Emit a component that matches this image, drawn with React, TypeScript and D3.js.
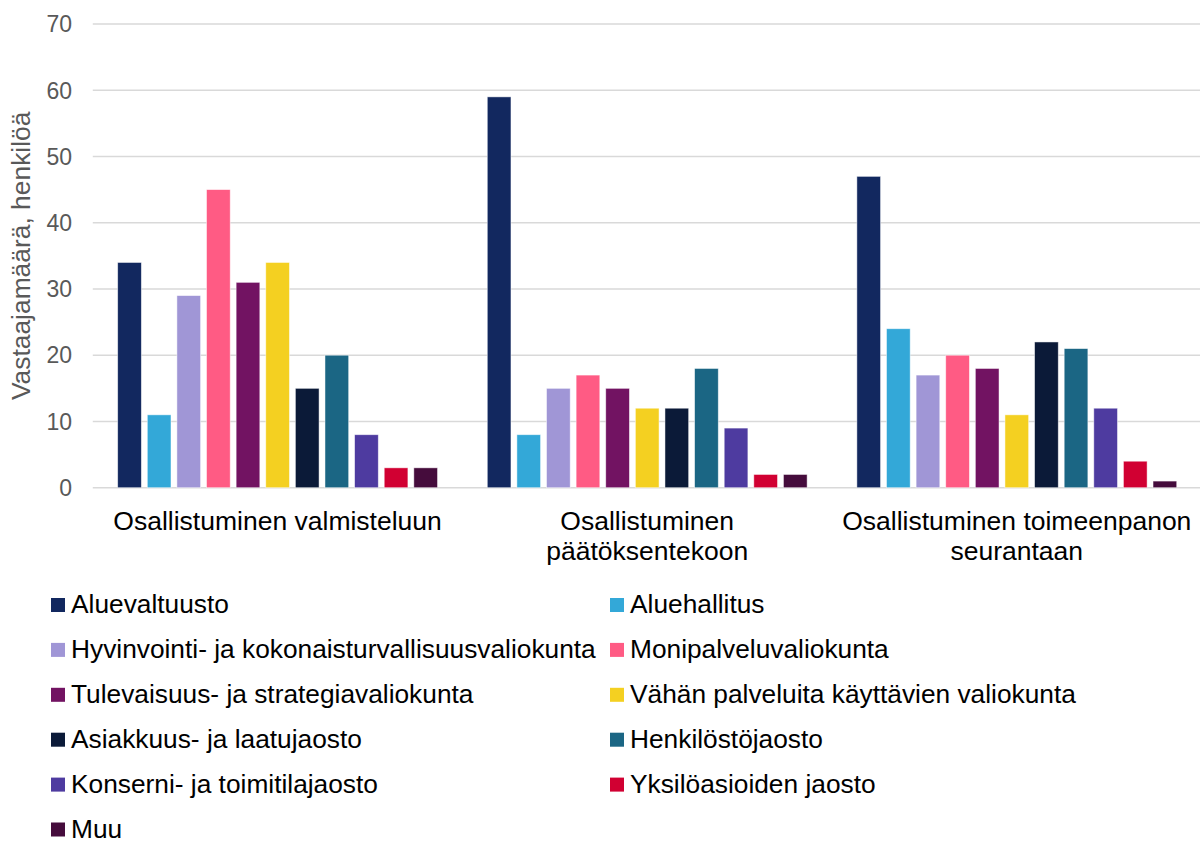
import React from "react";
import * as d3 from "d3";

const categories: string[][] = [
  ["Osallistuminen valmisteluun"],
  ["Osallistuminen", "päätöksentekoon"],
  ["Osallistuminen toimeenpanon", "seurantaan"],
];

const seriesNames: string[] = [
  "Aluevaltuusto",
  "Aluehallitus",
  "Hyvinvointi- ja kokonaisturvallisuusvaliokunta",
  "Monipalveluvaliokunta",
  "Tulevaisuus- ja strategiavaliokunta",
  "Vähän palveluita käyttävien valiokunta",
  "Asiakkuus- ja laatujaosto",
  "Henkilöstöjaosto",
  "Konserni- ja toimitilajaosto",
  "Yksilöasioiden jaosto",
  "Muu",
];

const seriesColors: string[] = [
  "#12285F",
  "#33A8D8",
  "#A096D6",
  "#FF5B84",
  "#721362",
  "#F4D021",
  "#0B1A38",
  "#1B6684",
  "#4E3BA0",
  "#D10032",
  "#450C3C",
];

// values[categoryIndex][seriesIndex]
const valmisteluun: number[] = [34, 11, 29, 45, 31, 34, 15, 20, 8, 3, 3];
const paatoksentekoon: number[] = [59, 8, 15, 17, 15, 12, 12, 18, 9, 2, 2];
const seurantaan: number[] = [47, 24, 17, 20, 18, 11, 22, 21, 12, 4, 1];
const values: number[][] = [valmisteluun, paatoksentekoon, seurantaan];

const yTicks: number[] = [0, 10, 20, 30, 40, 50, 60, 70];
const yTitle = "Vastaajamäärä, henkilöä";

const W = 1200;
const H = 841;
const FONT = "'Liberation Sans', Arial, sans-serif";

export default function App() {
  const plotLeft = 92.8;
  const plotRight = 1201.6;
  const plotTop = 24;
  const plotBottom = 487.7;

  const x0 = d3
    .scaleBand<number>()
    .domain(d3.range(categories.length))
    .range([plotLeft, plotRight])
    .paddingInner(0)
    .paddingOuter(0);

  const x1 = d3
    .scaleBand<number>()
    .domain(d3.range(seriesNames.length))
    .range([0, x0.bandwidth()])
    .paddingInner(0.2)
    .paddingOuter(0.84);

  const y = d3.scaleLinear().domain([0, 70]).range([plotBottom, plotTop]);

  const legendX = [51, 610];
  const legendBase = 613;
  const legendStep = 44.9;

  return (
    <svg
      width={W}
      height={H}
      style={{ position: "absolute", left: 0, top: 0, background: "#fff" }}
      fontFamily={FONT}
    >
      {/* gridlines */}
      {yTicks.map((t) => (
        <line
          key={t}
          x1={plotLeft}
          x2={plotRight}
          y1={y(t)}
          y2={y(t)}
          stroke="#D9D9D9"
          strokeWidth={1.5}
        />
      ))}
      {/* y tick labels */}
      {yTicks.map((t) => (
        <text
          key={"l" + t}
          x={72}
          y={y(t)}
          dy="0.36em"
          textAnchor="end"
          fontSize={23}
          fill="#595959"
        >
          {t}
        </text>
      ))}
      {/* y title */}
      <text
        transform={`translate(30, ${(plotTop + plotBottom) / 2}) rotate(-90)`}
        textAnchor="middle"
        fontSize={26.4}
        fill="#595959"
      >
        {yTitle}
      </text>
      {/* bars */}
      {values.map((row, ci) => (
        <g key={ci} transform={`translate(${x0(ci)},0)`}>
          {row.map((v, si) => (
            <rect
              key={si}
              x={x1(si)}
              y={y(v)}
              width={x1.bandwidth()}
              height={y(0) - y(v)}
              fill={seriesColors[si]}
              stroke="#ffffff"
              strokeOpacity={0.6}
              strokeWidth={0.8}
            />
          ))}
        </g>
      ))}
      {/* category labels */}
      {categories.map((lines, ci) => (
        <text
          key={"c" + ci}
          x={(x0(ci) as number) + x0.bandwidth() / 2}
          y={530}
          textAnchor="middle"
          fontSize={26.5}
          fill="#000"
        >
          {lines.map((ln, li) => (
            <tspan key={li} x={(x0(ci) as number) + x0.bandwidth() / 2} dy={li === 0 ? 0 : 29.5}>
              {ln}
            </tspan>
          ))}
        </text>
      ))}
      {/* legend */}
      {seriesNames.map((name, si) => {
        const col = si % 2;
        const row = Math.floor(si / 2);
        const by = legendBase + row * legendStep;
        return (
          <g key={"lg" + si}>
            <rect x={legendX[col]} y={by - 15} width={14} height={14} fill={seriesColors[si]} />
            <text x={legendX[col] + 20} y={by} fontSize={26.3} fill="#000">
              {name}
            </text>
          </g>
        );
      })}
    </svg>
  );
}
